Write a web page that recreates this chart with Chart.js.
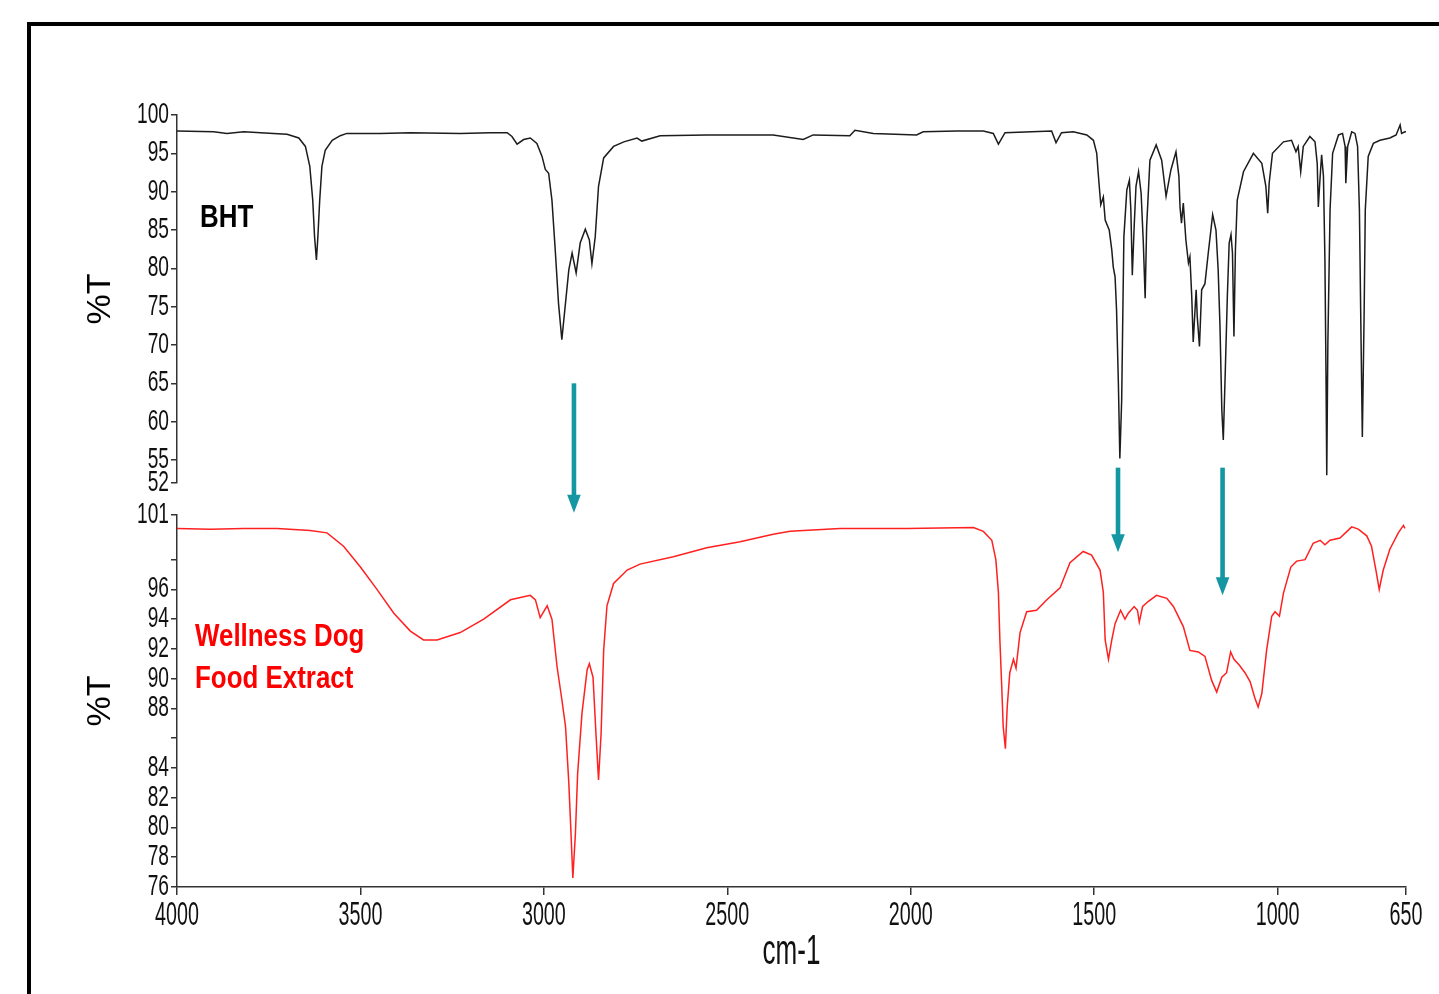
<!DOCTYPE html>
<html>
<head>
<meta charset="utf-8">
<script src="https://cdn.jsdelivr.net/npm/chart.js@4.4.1/dist/chart.umd.min.js"></script>
<style>
  html, body { margin: 0; padding: 0; background: #fff; overflow: hidden; }
  #moldura { position: absolute; left: 27px; top: 22px; width: 1500px; height: 1100px; border: 4px solid #000; box-sizing: border-box; }
  canvas { position: absolute; left: 0; top: 0; }
</style>
</head>
<body>
<div id="moldura"></div>
<canvas id="grafico-bht" width="1439" height="994"></canvas>
<canvas id="grafico-extrato" width="1439" height="994"></canvas>
<script>
// Espectros: [número de onda (cm-1), %T]
const bhtSpectrum = [
  [4000, 97.9], [3900, 97.8], [3864, 97.6], [3818, 97.8], [3737, 97.6], [3700, 97.5],
  [3668, 97.0], [3650, 95.9], [3638, 93.3], [3630, 88.9], [3625, 84.1], [3620, 81.1],
  [3616, 84.1], [3611, 88.9], [3605, 93.3], [3596, 95.4], [3577, 96.7], [3555, 97.3],
  [3537, 97.6], [3446, 97.6], [3364, 97.7], [3228, 97.6], [3146, 97.7], [3100, 97.7],
  [3087, 97.2], [3073, 96.2], [3055, 96.8], [3037, 97.0], [3019, 96.3], [3005, 94.6],
  [2996, 92.9], [2987, 92.4], [2978, 88.9], [2969, 82.4], [2960, 75.4], [2951, 70.7],
  [2942, 75.0], [2932, 79.8], [2923, 82.0], [2912, 79.4], [2901, 83.3], [2887, 85.1],
  [2876, 83.7], [2869, 80.6], [2860, 84.1], [2851, 90.7], [2837, 94.4], [2810, 95.9],
  [2782, 96.5], [2746, 97.0], [2733, 96.6], [2683, 97.3], [2556, 97.4], [2375, 97.4],
  [2293, 96.8], [2266, 97.4], [2166, 97.3], [2152, 98.0], [2102, 97.6], [1984, 97.4],
  [1966, 97.8], [1875, 97.9], [1802, 97.9], [1775, 97.6], [1761, 96.2], [1743, 97.7],
  [1616, 97.9], [1604, 96.4], [1589, 97.7], [1557, 97.8], [1520, 97.4], [1502, 96.7],
  [1493, 95.0], [1489, 92.4], [1482, 88.3], [1475, 89.3], [1470, 86.3], [1459, 85.0],
  [1452, 82.4], [1448, 80.2], [1443, 78.9], [1439, 74.6], [1434, 65.0], [1430, 55.2],
  [1425, 62.8], [1422, 73.7], [1419, 84.1], [1411, 90.2], [1404, 91.5], [1400, 87.6],
  [1396, 79.1], [1391, 85.4], [1386, 90.7], [1379, 92.6], [1372, 89.8], [1366, 83.3],
  [1361, 76.1], [1357, 85.4], [1348, 94.1], [1331, 96.1], [1316, 94.1], [1304, 89.4],
  [1291, 92.8], [1277, 95.2], [1269, 92.0], [1266, 88.0], [1262, 85.9], [1257, 88.5],
  [1250, 83.7], [1243, 80.7], [1239, 81.5], [1234, 76.3], [1230, 70.4], [1222, 77.2],
  [1219, 73.7], [1213, 69.8], [1207, 77.2], [1198, 78.0], [1189, 82.0], [1177, 87.0],
  [1168, 85.0], [1162, 79.8], [1157, 72.4], [1152, 61.5], [1148, 57.6], [1143, 65.9],
  [1137, 76.3], [1132, 83.3], [1127, 84.4], [1123, 82.0], [1119, 71.1], [1115, 82.4],
  [1110, 88.9], [1093, 92.6], [1066, 95.0], [1043, 93.7], [1032, 90.7], [1027, 87.2],
  [1023, 91.1], [1014, 95.0], [984, 96.5], [962, 96.7], [950, 95.2], [944, 95.9],
  [937, 92.6], [930, 95.9], [912, 97.2], [898, 96.5], [892, 93.7], [889, 88.0],
  [884, 92.0], [880, 94.8], [875, 92.0], [871, 81.1], [868, 65.9], [866, 53.0],
  [863, 70.2], [857, 87.6], [850, 95.0], [834, 97.4], [823, 97.6], [816, 95.9],
  [814, 91.1], [809, 95.9], [798, 97.8], [789, 97.6], [782, 95.9], [777, 87.6],
  [773, 72.4], [769, 58.0], [764, 74.6], [761, 87.6], [753, 94.6], [739, 96.3],
  [721, 96.7], [694, 97.0], [677, 97.4], [666, 98.7], [662, 97.6], [653, 97.8], [650, 97.8]
];

const extractSpectrum = [
  [4000, 100.1], [3909, 100.05], [3818, 100.1], [3727, 100.1], [3637, 99.96], [3591, 99.8],
  [3546, 98.9], [3500, 97.5], [3455, 96.0], [3409, 94.4], [3364, 93.2], [3328, 92.6],
  [3291, 92.6], [3228, 93.1], [3164, 94.0], [3091, 95.3], [3037, 95.6], [3023, 95.3],
  [3010, 94.1], [2991, 94.9], [2978, 94.0], [2964, 90.8], [2951, 88.6], [2941, 86.8],
  [2932, 83.0], [2926, 79.6], [2921, 76.6], [2914, 79.6], [2908, 83.6], [2896, 87.7],
  [2882, 90.6], [2876, 91.0], [2866, 90.1], [2858, 86.3], [2851, 83.2], [2844, 86.3],
  [2837, 91.9], [2828, 94.9], [2810, 96.4], [2773, 97.3], [2738, 97.7], [2647, 98.2],
  [2556, 98.8], [2465, 99.2], [2375, 99.7], [2329, 99.9], [2193, 100.1], [2011, 100.1],
  [1829, 100.16], [1802, 99.9], [1779, 99.3], [1768, 98.0], [1761, 95.8], [1757, 92.6],
  [1752, 89.5], [1748, 86.8], [1742, 85.3], [1737, 88.1], [1730, 90.4], [1720, 91.3],
  [1713, 90.7], [1702, 93.1], [1684, 94.5], [1657, 94.6], [1629, 95.3], [1593, 96.1],
  [1566, 97.8], [1530, 98.55], [1507, 98.3], [1484, 97.3], [1475, 95.8], [1470, 92.6],
  [1461, 91.3], [1452, 92.6], [1443, 93.7], [1428, 94.6], [1416, 94.0], [1407, 94.4],
  [1391, 94.85], [1382, 94.6], [1377, 93.8], [1368, 94.85], [1352, 95.2], [1330, 95.6],
  [1302, 95.4], [1284, 94.85], [1271, 94.2], [1257, 93.5], [1239, 91.9], [1216, 91.8],
  [1198, 91.5], [1180, 89.9], [1166, 89.1], [1152, 90.1], [1139, 90.4], [1128, 91.8],
  [1119, 91.3], [1104, 90.9], [1089, 90.4], [1075, 89.8], [1062, 88.7], [1053, 88.1],
  [1043, 89.0], [1030, 91.9], [1016, 94.2], [1007, 94.5], [995, 94.2], [984, 95.75],
  [964, 97.5], [948, 97.9], [925, 98.0], [903, 99.1], [884, 99.3], [871, 99.0],
  [857, 99.3], [830, 99.45], [798, 100.2], [780, 100.05], [757, 99.6], [744, 98.9],
  [732, 97.3], [723, 96.0], [712, 97.3], [694, 98.7], [671, 99.8], [657, 100.3], [653, 100.1]
];

// Ticks dos eixos
const wavenumberTicks = [4000, 3500, 3000, 2500, 2000, 1500, 1000, 650];
const bhtTicks = [100, 95, 90, 85, 80, 75, 70, 65, 60, 55, 52];
const extractTicks = [101, 98, 96, 94, 92, 90, 88, 86, 84, 82, 80, 78, 76];
const extractTickLabels = [101, 96, 94, 92, 90, 88, 84, 82, 80, 78, 76];

// Setas: número de onda, início (%T do BHT), ponta (%T do extrato)
const arrowWavenumbers = [2918, 1435, 1150];
const arrowStartT = [65.0, 54.0, 54.0];
const arrowEndT = [101.15, 98.5, 95.6];

const fonte = "'Liberation Sans', Arial, sans-serif";
Chart.defaults.font.family = fonte;
Chart.defaults.color = "#111";

const toPoints = (arr) => arr.map(([x, y]) => ({ x, y }));

// texto estreito (a figura original tem letras comprimidas)
function textoComprimido(ctx, txt, x, y, font, sx, align) {
  ctx.save();
  ctx.font = font;
  ctx.textAlign = align;
  ctx.textBaseline = "middle";
  ctx.translate(x, y);
  ctx.scale(sx, 1);
  ctx.fillText(txt, 0, 0);
  ctx.restore();
}

// Textos dentro do gráfico
const rotulosPlugin = {
  id: "rotulos",
  afterDatasetsDraw(chart, args, opts) {
    const { ctx, scales } = chart;
    ctx.save();
    ctx.fillStyle = opts.color;
    const x = scales.x.getPixelForValue(opts.x);
    opts.lines.forEach((txt, i) => {
      textoComprimido(ctx, txt, x, scales.y.getPixelForValue(opts.y[i]), "bold 32px " + fonte, 0.81, "left");
    });
    ctx.restore();
  },
};

// Rótulos dos ticks e título do eixo x
const eixosPlugin = {
  id: "eixos",
  afterDraw(chart, args, opts) {
    const { ctx, chartArea, scales } = chart;
    ctx.save();
    ctx.fillStyle = "#111";
    scales.y.ticks.forEach((t) => {
      if (!opts.yLabels.includes(t.value)) return;
      textoComprimido(ctx, String(t.value), chartArea.left - 8, scales.y.getPixelForValue(t.value), "29px " + fonte, 0.66, "right");
    });
    if (opts.xAxis) {
      scales.x.ticks.forEach((t) => {
        textoComprimido(ctx, String(t.value), scales.x.getPixelForValue(t.value), chartArea.bottom + 29, "34px " + fonte, 0.58, "center");
      });
      textoComprimido(ctx, "cm-1", (chartArea.left + chartArea.right) / 2, chartArea.bottom + 65, "42px " + fonte, 0.62, "center");
    }
    ctx.restore();
  },
};

function eixoY(min, max, ticks) {
  return {
    type: "linear",
    min: min,
    max: max,
    afterBuildTicks: (scale) => {
      scale.ticks = ticks.map((v) => ({ value: v }));
    },
    afterFit: (scale) => {
      scale.width = 97;
    },
    ticks: { display: false, autoSkip: false },
    grid: { drawOnChartArea: false, drawTicks: true, tickLength: 6, color: "#333", lineWidth: 1.5 },
    border: { display: true, color: "#333", width: 1.5 },
    title: {
      display: true,
      text: "%T",
      color: "#000",
      font: { size: 34 },
      padding: { top: 0, bottom: 0 },
    },
  };
}

// BHT (em cima)
const graficoBht = new Chart(document.getElementById("grafico-bht"), {
  type: "line",
  data: {
    datasets: [
      {
        label: "BHT",
        data: toPoints(bhtSpectrum),
        borderColor: "#1c1c1c",
        borderWidth: 1.5,
        pointRadius: 0,
        tension: 0,
      },
    ],
  },
  options: {
    responsive: false,
    animation: false,
    layout: { padding: { left: 80, top: 115, right: 33, bottom: 511 } },
    plugins: {
      legend: { display: false },
      tooltip: { enabled: false },
      rotulos: { color: "#000", x: 3937, y: [86.6], lines: ["BHT"] },
      eixos: { yLabels: bhtTicks, xAxis: false },
    },
    scales: {
      x: { type: "linear", min: 650, max: 4000, reverse: true, display: false },
      y: eixoY(52, 100, bhtTicks),
    },
  },
  plugins: [rotulosPlugin, eixosPlugin],
});

// Setas entre os dois espectros
const setasPlugin = {
  id: "setas",
  afterDraw(chart) {
    const { ctx, scales } = chart;
    const yTop = graficoBht.scales.y;
    ctx.save();
    ctx.fillStyle = "#1497a3";
    arrowWavenumbers.forEach((wn, i) => {
      const x = scales.x.getPixelForValue(wn);
      const y0 = yTop.getPixelForValue(arrowStartT[i]);
      const y1 = scales.y.getPixelForValue(arrowEndT[i]);
      ctx.fillRect(x - 2.3, y0, 4.6, y1 - y0 - 16);
      ctx.beginPath();
      ctx.moveTo(x - 6.8, y1 - 18);
      ctx.lineTo(x + 6.8, y1 - 18);
      ctx.lineTo(x, y1);
      ctx.closePath();
      ctx.fill();
    });
    ctx.restore();
  },
};

// Extrato (embaixo)
const graficoExtrato = new Chart(document.getElementById("grafico-extrato"), {
  type: "line",
  data: {
    datasets: [
      {
        label: "Wellness Dog Food Extract",
        data: toPoints(extractSpectrum),
        borderColor: "#ff2020",
        borderWidth: 1.5,
        pointRadius: 0,
        tension: 0,
      },
    ],
  },
  options: {
    responsive: false,
    animation: false,
    layout: { padding: { left: 80, top: 515, right: 33, bottom: 17 } },
    plugins: {
      legend: { display: false },
      tooltip: { enabled: false },
      rotulos: { color: "#ff0000", x: 3951, y: [92.8, 90.0], lines: ["Wellness Dog", "Food Extract"] },
      eixos: { yLabels: extractTickLabels, xAxis: true },
    },
    scales: {
      x: {
        type: "linear",
        min: 650,
        max: 4000,
        reverse: true,
        afterBuildTicks: (scale) => {
          scale.ticks = wavenumberTicks.map((v) => ({ value: v }));
        },
        afterFit: (scale) => {
          scale.height = 90;
        },
        ticks: { display: false, autoSkip: false },
        grid: { drawOnChartArea: false, drawTicks: true, tickLength: 8, color: "#333", lineWidth: 1.5 },
        border: { display: true, color: "#333", width: 1.5 },
      },
      y: eixoY(76, 101, extractTicks),
    },
  },
  plugins: [rotulosPlugin, eixosPlugin, setasPlugin],
});
</script>
</body>
</html>
